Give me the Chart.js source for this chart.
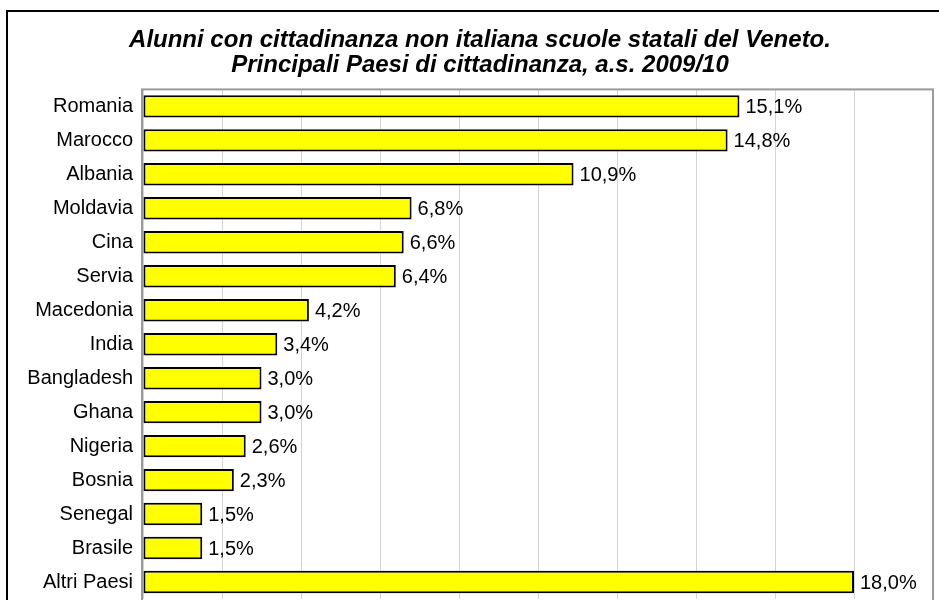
<!DOCTYPE html>
<html>
<head>
<meta charset="utf-8">
<script src="https://cdn.jsdelivr.net/npm/chart.js@4/dist/chart.umd.min.js"></script>
<style>
  html, body { margin: 0; padding: 0; background: #fff; overflow: hidden; width: 939px; height: 600px; }
  #frame { position: absolute; left: 6px; top: 10px; width: 1000px; height: 700px; border: 2px solid #000; box-sizing: border-box; }
  #c { position: absolute; left: 0; top: 0; }
</style>
</head>
<body>
<div id="frame"></div>
<canvas id="c" width="964" height="621"></canvas>
<script>
const titleLines = [
  "Alunni con cittadinanza non italiana scuole statali del Veneto.",
  "Principali Paesi di cittadinanza, a.s. 2009/10"
];
const countries = ["Romania", "Marocco", "Albania", "Moldavia", "Cina", "Servia", "Macedonia", "India", "Bangladesh", "Ghana", "Nigeria", "Bosnia", "Senegal", "Brasile", "Altri Paesi"];
const shares = [15.1, 14.8, 10.9, 6.8, 6.6, 6.4, 4.2, 3.4, 3.0, 3.0, 2.6, 2.3, 1.5, 1.5, 18.0];

const FONT = "'Liberation Sans', Arial, sans-serif";

const valueLabels = {
  id: 'valueLabels',
  afterDatasetsDraw(chart) {
    const ctx = chart.ctx;
    const meta = chart.getDatasetMeta(0);
    ctx.save();
    ctx.font = "20px " + FONT;
    ctx.fillStyle = "#000";
    ctx.textAlign = "left";
    ctx.textBaseline = "middle";
    meta.data.forEach((el, i) => {
      const v = chart.data.datasets[0].data[i];
      ctx.fillText(v.toFixed(1).replace('.', ',') + '%', el.x + 6, el.y + 1);
    });
    ctx.restore();
  }
};

const plotBorder = {
  id: 'plotBorder',
  beforeDatasetsDraw(chart) {
    const a = chart.chartArea;
    const ctx = chart.ctx;
    ctx.save();
    ctx.strokeStyle = "#9a9a9a";
    ctx.lineWidth = 2;
    ctx.strokeRect(a.left - 1, a.top, a.right - a.left + 1, a.bottom - a.top + 10);
    ctx.restore();
  }
};

new Chart(document.getElementById('c'), {
  type: 'bar',
  data: {
    labels: countries,
    datasets: [{
      data: shares,
      backgroundColor: '#FFFF00',
      borderColor: '#000',
      borderWidth: 2,
      borderSkipped: false,
      barPercentage: 0.66,
      categoryPercentage: 1.0
    }]
  },
  options: {
    indexAxis: 'y',
    responsive: false,
    animation: false,
    devicePixelRatio: 1,
    layout: { padding: { left: 27, right: 31, top: 0, bottom: 1 } },
    plugins: {
      legend: { display: false },
      tooltip: { enabled: false },
      title: {
        display: true,
        text: titleLines,
        color: '#000',
        font: { family: FONT, size: 24, weight: 'bold', style: 'italic', lineHeight: 1.05 },
        padding: { top: 28, bottom: 11 }
      }
    },
    scales: {
      x: {
        min: 0, max: 20,
        ticks: { display: false, stepSize: 2 },
        grid: { color: '#d4d4d4', lineWidth: 1, drawTicks: false },
        border: { display: false },
        afterFit(scale) { scale.height = 0; }
      },
      y: {
        ticks: { color: '#000', font: { family: FONT, size: 20 }, padding: 10 },
        grid: { display: false, drawTicks: false },
        border: { display: false },
        afterFit(scale) { scale.width = 116; }
      }
    }
  },
  plugins: [plotBorder, valueLabels]
});
</script>
</body>
</html>
